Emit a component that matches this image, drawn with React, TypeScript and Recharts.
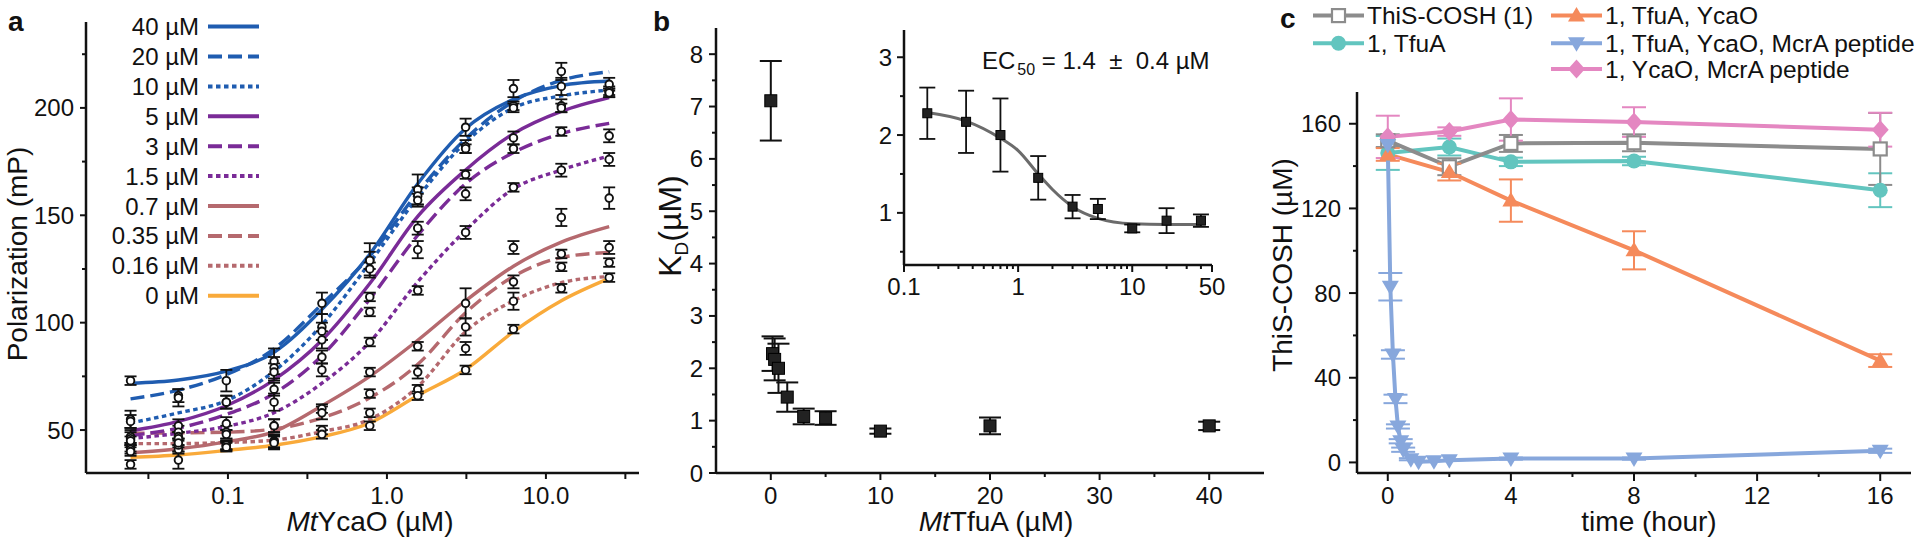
import React from "react";
import { ComposedChart, Line, Scatter, XAxis, YAxis, ErrorBar } from "recharts";

const FONT = "'Liberation Sans', Arial, Helvetica, sans-serif";
const INK = "#111";

// ---- panel a: polarization vs MtYcaO, one fit per MtTfuA level
const ycaoConc = [0.0244, 0.0488, 0.0977, 0.195, 0.39, 0.78, 1.5625, 3.125, 6.25, 12.5, 25];
const tfuaLevels = ["40 µM", "20 µM", "10 µM", "5 µM", "3 µM", "1.5 µM", "0.7 µM", "0.35 µM", "0.16 µM", "0 µM"];

const fit40 = [71.8, 73.3, 77.4, 86.2, 106.2, 131.9, 164.7, 190.4, 204, 210.4, 212.5];
const fit20 = [64.5, 68.6, 75.8, 87.8, 108.6, 131, 160.7, 185.6, 203, 212.8, 216.8];
const fit10 = [53.3, 58, 63.7, 77.4, 99, 127.9, 158.3, 184, 200, 205.6, 208.3];
const fit5 = [49.6, 54, 61.3, 73.4, 91.8, 118.2, 149.5, 171.1, 188, 198.4, 204.8];
const fit3 = [47.4, 50.9, 57.3, 67, 84.6, 111, 140.7, 164.7, 179.2, 188, 192.8];
const fit1_5 = [46, 48.5, 51.7, 58.1, 71.8, 91, 119, 143, 162.3, 171.1, 177.6];
const fit0_7 = [39.4, 41.3, 44.5, 49.3, 61.3, 75, 91.8, 110.2, 126.3, 137.5, 144.7];
const fit0_35 = [48.5, 48.7, 49, 50.5, 55.7, 65, 80.6, 104.6, 121.5, 130.3, 132.7];
const fit0_16 = [43.7, 43.7, 44.2, 45.3, 49.3, 55, 70.2, 95.8, 110.2, 118.6, 121.5];
const fit0 = [37.3, 38.4, 40.5, 42.9, 46.9, 53.3, 66.1, 78.2, 95.8, 110.2, 120.6];

const obs40 = [73, 66, 73, 82, 109, 129, 162, 191, 209, 210, 211];
const obs20 = [55, 65, 63, 79, 98, 129, 159, 182, 201, 217, 208];
const obs10 = [54, 52, 63, 77, 96, 125, 157, 181, 200, 201, 207];
const obs5 = [47, 49, 53, 69, 92, 112, 144, 169, 186, 200, 207];
const obs3 = [46, 47, 49, 63, 84, 105, 134, 160, 181, 189, 187];
const obs1_5 = [42, 46, 48, 52, 78, 91, 115, 142, 163, 171, 176];
const obs0_7 = [41, 41, 43, 52, 60, 77, 89, 109, 135, 149, 158];
const obs0_35 = [45, 43, 42.5, 45, 58, 67, 77, 98, 119, 132, 135];
const obs0_16 = [40, 44, 43, 44.5, 50, 58, 69, 88, 110, 126, 128];
const obs0 = [34, 36, 42, 44, 48, 52, 66, 78, 97, 116, 121];

const err40 = [2, 3, 5, 6, 5, 8, 7, 4, 4, 4, 3];
const err20 = [4, 4, 3, 5, 6, 4, 4, 3, 2, 4, 2];
const err10 = [3, 3, 3, 4, 4, 3, 3, 2, 2, 3, 2];
const err5 = [3, 3, 3, 3, 4, 2, 3, 2, 3, 2, 2];
const err3 = [3, 2, 3, 4, 3, 2, 4, 3, 2, 2, 3];
const err1_5 = [2, 3, 2, 3, 3, 2, 2, 3, 2, 3, 3];
const err0_7 = [2, 2, 2, 3, 2, 2, 2, 7, 3, 4, 5];
const err0_35 = [2, 3, 2, 3, 3, 2, 3, 4, 3, 2, 3];
const err0_16 = [2, 2, 2, 3, 2, 2, 2, 3, 4, 2, 2];
const err0 = [2, 4, 2, 3, 2, 2, 2, 2, 2, 2, 2];

const fitCurves = [fit40, fit20, fit10, fit5, fit3, fit1_5, fit0_7, fit0_35, fit0_16, fit0];
const obsValues = [obs40, obs20, obs10, obs5, obs3, obs1_5, obs0_7, obs0_35, obs0_16, obs0];
const obsErrors = [err40, err20, err10, err5, err3, err1_5, err0_7, err0_35, err0_16, err0];

const aXTicks = [0.0316, 0.1, 0.316, 1, 3.16, 10, 31.6];
const aXLabels = ["", "0.1", "", "1.0", "", "10.0", ""];
const aYTicks = [50, 75, 100, 125, 150, 175, 200, 225];
const aYLabels = ["50", "", "100", "", "150", "", "200", ""];

// ---- panel b: KD vs MtTfuA, plus log inset with fit
const tfuaConc = [0, 0.16, 0.35, 0.7, 1.5, 3, 5, 10, 20, 40];
const kdValues = [7.11, 2.28, 2.17, 2.0, 1.45, 1.08, 1.05, 0.8, 0.9, 0.9];
const kdErrors = [0.76, 0.33, 0.4, 0.47, 0.28, 0.15, 0.13, 0.05, 0.16, 0.08];
const ecFitX = [0.16, 0.35, 0.7, 1, 1.5, 2, 3, 5, 10, 20, 40];
const ecFitY = [2.29, 2.18, 1.96, 1.8, 1.5, 1.3, 1.08, 0.93, 0.86, 0.85, 0.85];

const bXTicks = [0, 5, 10, 15, 20, 25, 30, 35, 40];
const bXLabels = ["0", "", "10", "", "20", "", "30", "", "40"];
const bYTicks = [0, 0.5, 1, 1.5, 2, 2.5, 3, 3.5, 4, 4.5, 5, 5.5, 6, 6.5, 7, 7.5, 8];
const bYLabels = ["0", "", "1", "", "2", "", "3", "", "4", "", "5", "", "6", "", "7", "", "8"];
const insetXTicks = [0.1, 0.2, 0.3, 0.4, 0.5, 0.6, 0.7, 0.8, 0.9, 1, 2, 3, 4, 5, 6, 7, 8, 9, 10, 20, 30, 40, 50];
const insetXLabels = ["0.1", "", "", "", "", "", "", "", "", "1", "", "", "", "", "", "", "", "", "10", "", "", "", "50"];
const insetYTicks = [0.5, 1, 1.5, 2, 2.5, 3];
const insetYLabels = ["", "1", "", "2", "", "3"];

// ---- panel c: ThiS-COSH over time
const timeMain = [0, 2, 4, 8, 16];
const thisCosh = [152, 139.7, 150.7, 151, 148.1];
const thisCoshErr = [3, 4, 4, 4, 17];
const withTfuA = [146.2, 149, 142, 142.4, 128.6];
const withTfuAErr = [8, 4, 2, 2, 8];
const withTfuAYcaO = [145.5, 137.2, 123.7, 100.2, 48.1];
const withTfuAYcaOErr = [3, 4, 10, 9, 3];
const withYcaOMcrA = [153.8, 156.3, 162, 160.8, 157.2];
const withYcaOMcrAErr = [10, 2, 10, 7, 8];
const timeFast = [0, 0.083, 0.167, 0.25, 0.33, 0.42, 0.5, 0.75, 1, 1.5, 2, 4, 8, 16];
const withAll = [150, 83, 51, 30, 17, 10, 6, 1.5, 0.3, 0.5, 1, 1.8, 1.8, 5.5];
const withAllErr = [0, 6.5, 2, 2, 1, 1, 1, 0.5, 0, 0, 0, 0.5, 0.5, 1];
const cSeriesNames = ["ThiS-COSH (1)", "1, TfuA", "1, TfuA, YcaO", "1, TfuA, YcaO, McrA peptide", "1, YcaO, McrA peptide"];

const cXTicks = [0, 2, 4, 6, 8, 10, 12, 14, 16];
const cXLabels = ["0", "", "4", "", "8", "", "12", "", "16"];
const cYTicks = [0, 20, 40, 60, 80, 100, 120, 140, 160];
const cYLabels = ["0", "", "40", "", "80", "", "120", "", "160"];

const pts = (xs: number[], ys: number[], es?: number[]) =>
  xs.map((x, i) => ({ x, y: ys[i], err: es ? es[i] : 0 }));

const BLUE = "#1f5cb0";
const PURPLE = "#7a2b97";
const ROSE = "#b5696e";
const ORANGE = "#f9aa3a";
const DASH = "14 6";
const DOT = "4.5 3.5";
const aStyles = [
  { c: BLUE, d: undefined },
  { c: BLUE, d: DASH },
  { c: BLUE, d: DOT },
  { c: PURPLE, d: undefined },
  { c: PURPLE, d: DASH },
  { c: PURPLE, d: DOT },
  { c: ROSE, d: undefined },
  { c: ROSE, d: DASH },
  { c: ROSE, d: DOT },
  { c: ORANGE, d: undefined },
];

const cStyles = [
  { c: "#8c8c8c", m: "sq" },
  { c: "#62c5bf", m: "circle" },
  { c: "#f58a5b", m: "up" },
  { c: "#87a7dc", m: "down" },
  { c: "#e487c1", m: "diamond" },
];

type TickOpts = { ticks: number[]; labels: string[]; major?: number; minor?: number; gap?: number; size?: number };

const bottomTick = (o: TickOpts) => (p: any) => {
  const i = o.ticks.indexOf(p.payload.value);
  const lab = i >= 0 ? o.labels[i] : "";
  const len = lab ? o.major ?? 7 : o.minor ?? 4;
  return (
    <g key={`bt-${p.index}`}>
      <line x1={p.x} x2={p.x} y1={p.y} y2={p.y + len} stroke={INK} strokeWidth={2} />
      {lab ? (
        <text x={p.x} y={p.y + (o.gap ?? 31)} textAnchor="middle" fontFamily={FONT} fontSize={o.size ?? 24} fill={INK}>
          {lab}
        </text>
      ) : null}
    </g>
  );
};

const leftTick = (o: TickOpts) => (p: any) => {
  const i = o.ticks.indexOf(p.payload.value);
  const lab = i >= 0 ? o.labels[i] : "";
  const len = lab ? o.major ?? 7 : o.minor ?? 4;
  return (
    <g key={`lt-${p.index}`}>
      <line x1={p.x - len} x2={p.x} y1={p.y} y2={p.y} stroke={INK} strokeWidth={2} />
      {lab ? (
        <text x={p.x - (o.gap ?? 12)} y={p.y + 8.5} textAnchor="end" fontFamily={FONT} fontSize={o.size ?? 24} fill={INK}>
          {lab}
        </text>
      ) : null}
    </g>
  );
};

const axisLine = { stroke: INK, strokeWidth: 2.5 };

function marker(kind: string, cx: number, cy: number, color: string, key?: any) {
  if (cx == null || cy == null) return <g key={key} />;
  switch (kind) {
    case "sq":
      return <rect key={key} x={cx - 6.5} y={cy - 6.5} width={13} height={13} fill="#fff" stroke={color} strokeWidth={2.2} />;
    case "circle":
      return <circle key={key} cx={cx} cy={cy} r={7.5} fill={color} />;
    case "up":
      return <polygon key={key} points={`${cx},${cy - 8.5} ${cx + 8.5},${cy + 6} ${cx - 8.5},${cy + 6}`} fill={color} />;
    case "down":
      return <polygon key={key} points={`${cx - 8.5},${cy - 6} ${cx + 8.5},${cy - 6} ${cx},${cy + 8.5}`} fill={color} />;
    default:
      return <polygon key={key} points={`${cx},${cy - 9.5} ${cx + 8.5},${cy} ${cx},${cy + 9.5} ${cx - 8.5},${cy}`} fill={color} />;
  }
}

function PanelA() {
  const allObs = obsValues.flatMap((ys, k) => pts(ycaoConc, ys, obsErrors[k]));
  return (
    <ComposedChart width={660} height={542} margin={{ top: 22, right: 21, bottom: 0, left: 0 }}>
      <XAxis
        dataKey="x"
        type="number"
        scale="log"
        domain={[0.0128, 38.5]}
        allowDataOverflow
        ticks={aXTicks}
        interval={0}
        tickSize={0}
        tickMargin={0}
        tickLine={false}
        axisLine={axisLine}
        height={69}
        tick={bottomTick({ ticks: aXTicks, labels: aXLabels, major: 6, minor: 6 })}
      />
      <YAxis
        dataKey="y"
        type="number"
        domain={[30, 240]}
        allowDataOverflow
        ticks={aYTicks}
        interval={0}
        tickSize={0}
        tickMargin={0}
        tickLine={false}
        axisLine={axisLine}
        width={86}
        tick={leftTick({ ticks: aYTicks, labels: aYLabels, major: 6, minor: 4, gap: 12 })}
      />
      {fitCurves
        .map((ys, k) => (
          <Line
            key={`fit-${k}`}
            data={pts(ycaoConc, ys)}
            dataKey="y"
            type="monotone"
            stroke={aStyles[k].c}
            strokeWidth={3.4}
            strokeDasharray={aStyles[k].d}
            dot={false}
            isAnimationActive={false}
          />
        ))
        .reverse()}
      <Scatter
        data={allObs}
        dataKey="y"
        isAnimationActive={false}
        shape={(p: any) => <circle cx={p.cx} cy={p.cy} r={3.8} fill="#fff" stroke={INK} strokeWidth={1.9} />}
      >
        <ErrorBar dataKey="err" direction="y" width={6} stroke={INK} strokeWidth={1.8} />
      </Scatter>
    </ComposedChart>
  );
}

const square = (s: number) => (p: any) =>
  <rect x={p.cx - s / 2} y={p.cy - s / 2} width={s} height={s} fill="#222" stroke="#000" strokeWidth={1} />;

function PanelB() {
  return (
    <ComposedChart width={640} height={542} margin={{ top: 28, right: 16, bottom: 0, left: 0 }}>
      <XAxis
        dataKey="x"
        type="number"
        domain={[-5, 45]}
        allowDataOverflow
        ticks={bXTicks}
        interval={0}
        tickSize={0}
        tickMargin={0}
        tickLine={false}
        axisLine={axisLine}
        height={69}
        tick={bottomTick({ ticks: bXTicks, labels: bXLabels, major: 7, minor: 4 })}
      />
      <YAxis
        dataKey="y"
        type="number"
        domain={[0, 8.5]}
        allowDataOverflow
        ticks={bYTicks}
        interval={0}
        tickSize={0}
        tickMargin={0}
        tickLine={false}
        axisLine={axisLine}
        width={76}
        tick={leftTick({ ticks: bYTicks, labels: bYLabels, major: 7, minor: 4, gap: 13 })}
      />
      <Scatter data={pts(tfuaConc, kdValues, kdErrors)} dataKey="y" isAnimationActive={false} shape={square(12)}>
        <ErrorBar dataKey="err" direction="y" width={11} stroke={INK} strokeWidth={2} />
      </Scatter>
    </ComposedChart>
  );
}

function InsetB() {
  return (
    <ComposedChart width={380} height={320} margin={{ top: 30, right: 28, bottom: 0, left: 0 }}>
      <XAxis
        dataKey="x"
        type="number"
        scale="log"
        domain={[0.1, 50]}
        allowDataOverflow
        ticks={insetXTicks}
        interval={0}
        tickSize={0}
        tickMargin={0}
        tickLine={false}
        axisLine={axisLine}
        height={55}
        tick={bottomTick({ ticks: insetXTicks, labels: insetXLabels, major: 7, minor: 4, gap: 30 })}
      />
      <YAxis
        dataKey="y"
        type="number"
        domain={[0.33, 3.35]}
        allowDataOverflow
        ticks={insetYTicks}
        interval={0}
        tickSize={0}
        tickMargin={0}
        tickLine={false}
        axisLine={axisLine}
        width={44}
        tick={leftTick({ ticks: insetYTicks, labels: insetYLabels, major: 7, minor: 4, gap: 12 })}
      />
      <Line
        data={pts(ecFitX, ecFitY)}
        dataKey="y"
        type="monotone"
        stroke="#6b6b6b"
        strokeWidth={3}
        dot={false}
        isAnimationActive={false}
      />
      <Scatter
        data={pts(tfuaConc.slice(1), kdValues.slice(1), kdErrors.slice(1))}
        dataKey="y"
        isAnimationActive={false}
        shape={square(9)}
      >
        <ErrorBar dataKey="err" direction="y" width={8} stroke={INK} strokeWidth={1.8} />
      </Scatter>
    </ComposedChart>
  );
}

function PanelC() {
  const series = [
    pts(timeMain, thisCosh, thisCoshErr),
    pts(timeMain, withTfuA, withTfuAErr),
    pts(timeMain, withTfuAYcaO, withTfuAYcaOErr),
    pts(timeFast, withAll, withAllErr),
    pts(timeMain, withYcaOMcrA, withYcaOMcrAErr),
  ];
  const order = [1, 0, 2, 4, 3];
  return (
    <ComposedChart width={640} height={542} margin={{ top: 92, right: 9, bottom: 0, left: 0 }}>
      <XAxis
        dataKey="x"
        type="number"
        domain={[-1, 17]}
        allowDataOverflow
        ticks={cXTicks}
        interval={0}
        tickSize={0}
        tickMargin={0}
        tickLine={false}
        axisLine={axisLine}
        height={69}
        tick={bottomTick({ ticks: cXTicks, labels: cXLabels, major: 8, minor: 4 })}
      />
      <YAxis
        dataKey="y"
        type="number"
        domain={[-5, 175]}
        allowDataOverflow
        ticks={cYTicks}
        interval={0}
        tickSize={0}
        tickMargin={0}
        tickLine={false}
        axisLine={axisLine}
        width={77}
        tick={leftTick({ ticks: cYTicks, labels: cYLabels, major: 8, minor: 4, gap: 16 })}
      />
      {order.map((k) => (
        <Line
          key={`c-${k}`}
          data={series[k]}
          dataKey="y"
          type="linear"
          stroke={cStyles[k].c}
          strokeWidth={4}
          isAnimationActive={false}
          dot={(p: any) => marker(cStyles[k].m, p.cx, p.cy, cStyles[k].c, `d-${k}-${p.index}`)}
        >
          <ErrorBar dataKey="err" direction="y" width={12} stroke={cStyles[k].c} strokeWidth={2} />
        </Line>
      ))}
    </ComposedChart>
  );
}

function Overlay() {
  const aRow0 = 26.6;
  const aStep = 29.9;
  const cRows = [15.6, 43.2, 69.1];
  const cLegend = [
    { k: 0, x: 1313, row: 0 },
    { k: 1, x: 1313, row: 1 },
    { k: 2, x: 1551, row: 0 },
    { k: 3, x: 1551, row: 1 },
    { k: 4, x: 1551, row: 2 },
  ];
  return (
    <svg
      width={1920}
      height={542}
      style={{ position: "absolute", left: 0, top: 0, pointerEvents: "none" }}
      fontFamily={FONT}
      fill={INK}
    >
      {/* panel letters */}
      <text x={8} y={31} fontSize={28} fontWeight="bold">a</text>
      <text x={653} y={31} fontSize={28} fontWeight="bold">b</text>
      <text x={1280} y={28} fontSize={28} fontWeight="bold">c</text>

      {/* panel a */}
      <text transform="translate(27,254) rotate(-90)" textAnchor="middle" fontSize={28}>Polarization (mP)</text>
      <text x={370} y={531} textAnchor="middle" fontSize={28}>
        <tspan fontStyle="italic">Mt</tspan>YcaO (µM)
      </text>
      {tfuaLevels.map((lab, k) => {
        const y = aRow0 + k * aStep;
        return (
          <g key={`al-${k}`}>
            <text x={199} y={y + 8.5} textAnchor="end" fontSize={24}>{lab}</text>
            <line x1={208} x2={259} y1={y} y2={y} stroke={aStyles[k].c} strokeWidth={4} strokeDasharray={aStyles[k].d} />
          </g>
        );
      })}

      {/* panel b */}
      <text transform="translate(681,226) rotate(-90)" textAnchor="middle" fontSize={32}>
        K<tspan fontSize={19} dy={7}>D</tspan>
        <tspan dy={-7}>(µM)</tspan>
      </text>
      <text x={996} y={531} textAnchor="middle" fontSize={28}>
        <tspan fontStyle="italic">Mt</tspan>TfuA (µM)
      </text>
      <text x={982} y={69} fontSize={24}>
        EC<tspan fontSize={16} dy={6} dx={2}>50</tspan>
        <tspan dy={-6}>{" = 1.4 \u00a0± \u00a00.4 µM"}</tspan>
      </text>

      {/* panel c */}
      <text transform="translate(1292,265) rotate(-90)" textAnchor="middle" fontSize={28}>ThiS-COSH (µM)</text>
      <text x={1649} y={531} textAnchor="middle" fontSize={28}>time (hour)</text>
      {cLegend.map(({ k, x, row }) => {
        const y = cRows[row];
        const st = cStyles[k];
        return (
          <g key={`cl-${k}`}>
            <line x1={x} x2={x + 51} y1={y} y2={y} stroke={st.c} strokeWidth={4} />
            {marker(st.m, x + 25.5, y, st.c)}
            <text x={x + 54} y={y + 8.6} fontSize={24.5}>{cSeriesNames[k]}</text>
          </g>
        );
      })}
    </svg>
  );
}

export default function App() {
  return (
    <div style={{ position: "absolute", left: 0, top: 0, width: 1920, height: 542, background: "#fff", overflow: "hidden" }}>
      <div style={{ position: "absolute", left: 0, top: 0 }}>
        <PanelA />
      </div>
      <div style={{ position: "absolute", left: 640, top: 0 }}>
        <PanelB />
      </div>
      <div style={{ position: "absolute", left: 860, top: 0 }}>
        <InsetB />
      </div>
      <div style={{ position: "absolute", left: 1280, top: 0 }}>
        <PanelC />
      </div>
      <Overlay />
    </div>
  );
}
